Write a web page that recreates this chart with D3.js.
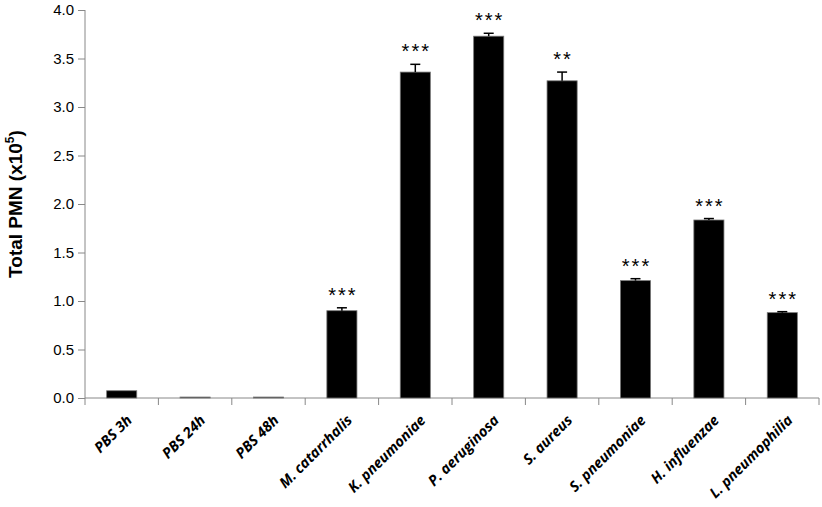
<!DOCTYPE html>
<html>
<head>
<meta charset="utf-8">
<script src="https://cdn.jsdelivr.net/npm/d3@7"></script>
<style>
body { margin: 0; background: #fff; }
</style>
</head>
<body>
<svg width="822" height="507"></svg>
<script>
var categories = ["PBS 3h", "PBS 24h", "PBS 48h", "M. catarrhalis", "K. pneumoniae",
  "P. aeruginosa", "S. aureus", "S. pneumoniae", "H. influenzae", "L. pneumophilia"];
var values = [0.075, 0.01, 0.01, 0.90, 3.36, 3.73, 3.27, 1.21, 1.835, 0.88];
var errors = [0.0, 0.0, 0.0, 0.03, 0.08, 0.03, 0.09, 0.02, 0.015, 0.01];
var stars = ["", "", "", "***", "***", "***", "**", "***", "***", "***"];
var yTicks = [0, 0.5, 1, 1.5, 2, 2.5, 3, 3.5, 4];

var svg = d3.select("svg");

var x = d3.scaleBand()
    .domain(categories)
    .range([85, 819])
    .paddingInner(0.59)
    .paddingOuter(0.295);

var y = d3.scaleLinear()
    .domain([0, 4])
    .range([398, 10]);

// y axis
var yAxis = svg.append("g")
    .attr("transform", "translate(85,0)")
    .call(d3.axisLeft(y).tickValues(yTicks).tickFormat(d3.format(".1f")).tickSize(7).tickSizeOuter(0));
yAxis.select(".domain").attr("stroke", "#888");
yAxis.selectAll(".tick line").attr("stroke", "#888");
yAxis.selectAll(".tick text")
    .attr("font-family", "Liberation Sans, Arial, sans-serif")
    .attr("font-size", 15)
    .attr("fill", "#000")
    .attr("x", -11);
yAxis.select(".domain").attr("d", "M0,405V10");

// x axis line and ticks
var xAxisG = svg.append("g");
xAxisG.append("line")
    .attr("x1", 85).attr("x2", 819)
    .attr("y1", 398).attr("y2", 398)
    .attr("stroke", "#888");
var edges = categories.map(function(d) { return x(d) - x.step() * x.paddingInner() / 2; });
edges.push(819);
xAxisG.selectAll(".xt")
    .data(edges.slice(1))
    .enter().append("line")
    .attr("x1", function(d) { return d; })
    .attr("x2", function(d) { return d; })
    .attr("y1", 398).attr("y2", 405)
    .attr("stroke", "#888");

// bars
svg.selectAll(".bar")
    .data(categories)
    .enter().append("rect")
    .attr("x", function(d) { return x(d); })
    .attr("width", x.bandwidth())
    .attr("y", function(d, i) { return y(values[i]); })
    .attr("height", function(d, i) { return y(0) - y(values[i]); })
    .attr("fill", "#000")
    .attr("stroke", "#777")
    .attr("stroke-width", 0.8);

// error bars
var eb = svg.selectAll(".err")
    .data(categories.filter(function(d, i) { return errors[i] > 0; }))
    .enter().append("g");
eb.append("line")
    .attr("x1", function(d) { return x(d) + x.bandwidth() / 2; })
    .attr("x2", function(d) { return x(d) + x.bandwidth() / 2; })
    .attr("y1", function(d) { var i = categories.indexOf(d); return y(values[i]); })
    .attr("y2", function(d) { var i = categories.indexOf(d); return y(values[i] + errors[i]); })
    .attr("stroke", "#000").attr("stroke-width", 1.5);
eb.append("line")
    .attr("x1", function(d) { return x(d) + x.bandwidth() / 2 - 5; })
    .attr("x2", function(d) { return x(d) + x.bandwidth() / 2 + 5; })
    .attr("y1", function(d) { var i = categories.indexOf(d); return y(values[i] + errors[i]); })
    .attr("y2", function(d) { var i = categories.indexOf(d); return y(values[i] + errors[i]); })
    .attr("stroke", "#000").attr("stroke-width", 1.5);

// significance stars
svg.selectAll(".star")
    .data(categories)
    .enter().append("text")
    .attr("x", function(d) { return x(d) + x.bandwidth() / 2 + 1; })
    .attr("y", function(d, i) { return y(values[i] + errors[i]) - 6; })
    .attr("text-anchor", "middle")
    .attr("font-family", "Liberation Sans, Arial, sans-serif")
    .attr("font-size", 20)
    .attr("letter-spacing", 2)
    .text(function(d, i) { return stars[i]; });

// x labels, rotated 45 degrees (css transform)
svg.selectAll(".xl")
    .data(categories)
    .enter().append("text")
    .attr("class", "xl")
    .style("transform", function(d) {
      var tx = x(d) + x.bandwidth() / 2 + 4;
      return "translate(" + tx + "px,414px) rotate(-45deg)";
    })
    .style("transform-origin", "0 0")
    .attr("text-anchor", "end")
    .attr("dy", "0.7em")
    .attr("font-family", "Open Sans, sans-serif")
    .attr("font-weight", "bold")
    .attr("font-style", "italic")
    .attr("font-size", 14.5)
    .text(function(d) { return d; });

// y title
var yt = svg.append("g")
    .attr("transform", "translate(22,204)")
    .append("text")
    .attr("transform", "rotate(-90)")
    .attr("text-anchor", "middle")
    .attr("font-family", "Liberation Sans, Arial, sans-serif")
    .attr("font-weight", "bold")
    .attr("font-size", 19);
yt.append("tspan").text("Total PMN (x10");
yt.append("tspan").attr("font-size", 12).attr("dy", -8).text("5");
yt.append("tspan").attr("dy", 8).text(")");
</script>
</body>
</html>
